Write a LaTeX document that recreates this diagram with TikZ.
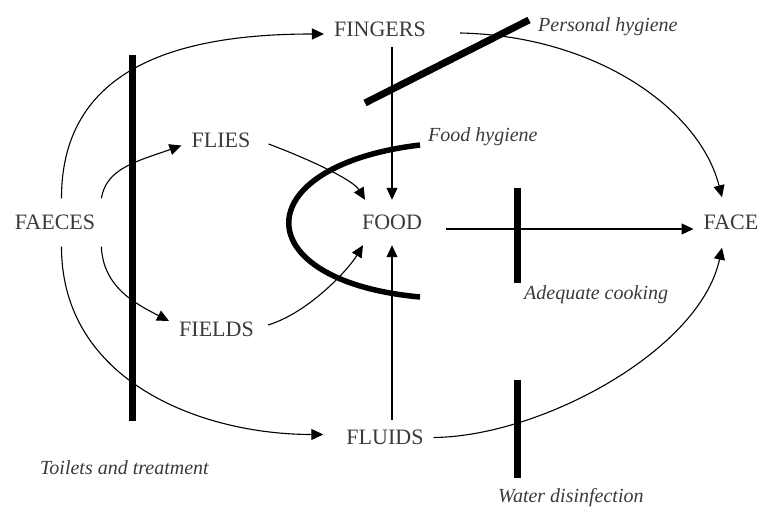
\documentclass[tikz,border=0pt]{standalone}
\usepackage{fontspec}
\setmainfont{Liberation Serif}
\usetikzlibrary{arrows.meta}
\definecolor{fdark}{HTML}{3A3A3A}
\tikzset{
  stage/.style={font=\fontsize{22}{26}\selectfont,text=fdark,inner xsep=10pt,inner ysep=10pt},
  note/.style={font=\fontsize{20}{24}\selectfont\itshape,text=fdark,inner sep=0pt,anchor=base west},
  barrier/.style={line width=7pt},
  ar/.style={-{Triangle[length=12pt,width=11pt]},line width=1.1pt},
}

\begin{document}
\begin{tikzpicture}[x=1pt,y=1pt]
  \useasboundingbox (0,0) rectangle (761,511);
  % the F-stages
  \node[stage,minimum height=48pt,inner xsep=6pt] (faeces) at (55,288.5){FAECES};
  \node[stage] (fingers) at (380,481.5){FINGERS};
  \node[stage] (flies) at (221,370.5){FLIES};
  \node[stage,minimum height=45pt] (food) at (392,288.5){FOOD};
  \node[stage] (fields) at (216.5,182){FIELDS};
  \node[stage] (fluids) at (385,73.5){FLUIDS};
  \node[stage,minimum height=50pt] (face) at (731,288.5){FACE};
  % routes
  \draw[ar] (faeces.75) .. controls +(0,137) and +(-134,0) .. ([yshift=-4.5pt]fingers.west);
  \draw[ar] (faeces.north east) .. controls +(5,30) and +(-45,-16) .. ([yshift=-5pt]flies.west);
  \draw[ar] (faeces.south east) .. controls +(2,-40) and +(-35,18) .. ([yshift=8pt]fields.west);
  \draw[ar] (faeces.-75) .. controls +(0,-134) and +(-123,0) .. ([xshift=-13pt,yshift=3pt]fluids.west);
  \draw[ar] ([xshift=8pt,yshift=-3.5pt]flies.east) .. controls +(40,-15) and +(-12,20) .. ([xshift=-27pt]food.north);
  \draw[ar] ([xshift=4pt,yshift=4pt]fields.east) .. controls +(40,12) and +(-15,-25) .. ([xshift=-29pt]food.south);
  \draw[ar] (fingers.south -| food.north) -- (food.north);
  \draw[ar] (fluids.north -| food.south) -- (food.south);
  \draw[ar] ([xshift=24pt,yshift=-3.5pt]fingers.east) .. controls +(138,-3) and +(-22,87) .. ([xshift=-9pt]face.north);
  \draw[ar] ([xshift=14pt,yshift=-6.5pt]food.east) -- ([yshift=-6.5pt]face.west);
  \draw[ar] (fluids.east) .. controls +(107,1) and +(-22,-103) .. ([xshift=-9pt]face.south);
  % barriers
  \draw[barrier] (132,456) -- (132,90);
  \draw[barrier] (365,408) -- (529,491);
  \draw[line width=5.5pt] (420,366) .. controls (245,345) and (245,230) .. (420,214);
  \draw[barrier] (517,323) -- (517,228);
  \draw[barrier] (517,131) -- (517,33);
  \node[note] (personal) at (538,479){Personal hygiene};
  \node[note] (foodhyg) at (428,369){Food hygiene};
  \node[note] (cooking) at (524,211){Adequate cooking};
  \node[note] (water) at (498,8){Water disinfection};
  \node[note] (toilets) at (40,36){Toilets and treatment};
\end{tikzpicture}
\end{document}
